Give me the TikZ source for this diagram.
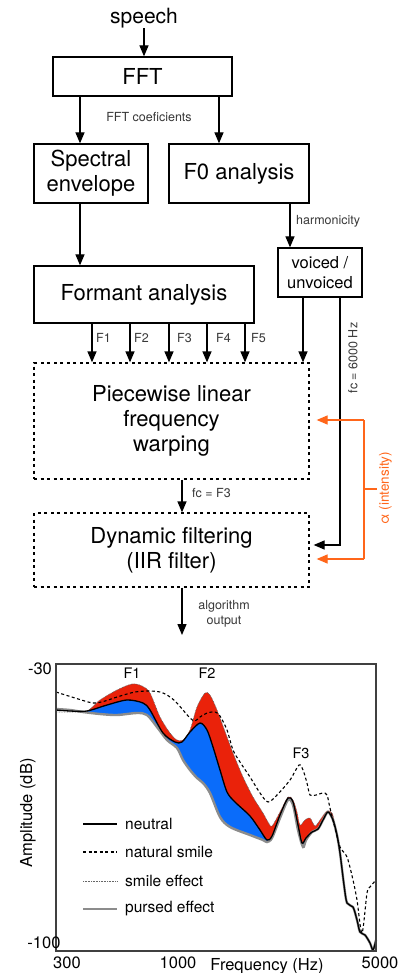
\documentclass[tikz,border=0pt]{standalone}
\usepackage{fontspec}
\setmainfont{TeX Gyre Heros}
\usetikzlibrary{arrows.meta}
\definecolor{myorange}{RGB}{255,102,26}
\definecolor{myred}{RGB}{234,34,10}
\definecolor{myblue}{RGB}{10,108,250}
\def\Npath{plot[smooth,tension=0.5] coordinates {(56,710) (70,711) (87,711) (107,705) (127,700) (143,703) (150,710) (163,733) (175,742) (182,742) (190,732) (200,723) (207,730) (213,747) (220,770) (227,792) (235,802) (250,816) (260,830) (267,840) (272,836) (280,815) (288,798) (293,802) (298,825) (302,843) (306,838) (312,832) (318,829) (323,820) (328,812) (333,820) (337,835) (340,853) (344,885) (347,903) (353,907) (357,920) (360,932) (365,935) (370,943) (373,950) (376,940)}}
\def\Spath{plot[smooth,tension=0.5] coordinates {(56,712) (70,712) (87,711) (100,700) (117,690) (132,684) (142,686) (150,693) (160,717) (170,733) (177,740) (183,740) (190,730) (197,707) (205,693) (210,695) (217,710) (227,737) (233,753) (243,777) (253,797) (263,813) (268,822) (272,826) (280,812) (288,797) (293,800) (297,812) (300,825) (305,820) (310,818) (315,826) (320,820) (327,811) (332,813) (335,825) (340,853) (344,885) (347,903) (353,907) (357,920) (360,932) (365,935) (370,943) (373,950) (376,940)}}
\def\Ppath{plot[smooth,tension=0.5] coordinates {(56,709) (70,710) (83,712) (100,714) (117,715) (137,713) (147,715) (157,727) (167,740) (177,748) (183,760) (190,770) (197,778) (203,783) (210,793) (220,817) (230,827) (250,835) (263,840) (267,842) (272,838) (280,818) (288,800) (293,805) (298,830) (303,847) (306,840) (312,832) (318,829) (323,820) (328,812) (333,820) (337,835) (340,853) (344,885) (347,903) (353,907) (357,920) (360,932) (365,935) (370,943) (373,950) (376,940)}}
\def\Dpath{plot[smooth,tension=0.5] coordinates {(56,692) (75,698) (93,703) (105,701) (117,697) (135,692) (150,691) (160,692) (167,695) (175,701) (183,710) (190,718) (195,721) (200,717) (207,713) (215,712) (220,716) (227,730) (233,750) (240,762) (250,777) (260,793) (268,802) (277,795) (290,780) (299,765) (303,770) (307,783) (310,795) (316,795) (323,793) (327,795) (330,808) (335,828) (340,847) (347,857) (353,880) (357,900) (362,933) (367,893) (370,887) (376,880)}}
\begin{document}
\begin{tikzpicture}[x=1pt,y=-1pt,
  box/.style={draw, line width=1.3pt, align=center, inner sep=0pt, font=\fontsize{22}{25}\selectfont},
  dbox/.style={draw, line width=1.3pt, dash pattern=on 3pt off 3.5pt, align=center, inner sep=0pt, font=\fontsize{22}{25}\selectfont},
  arr/.style={-{Triangle[length=11pt,width=9pt]}, line width=1.3pt},
  oarr/.style={-{Triangle[length=11pt,width=9pt]}, line width=1.3pt, myorange},
  oline/.style={line width=1.3pt, myorange},
  lbl/.style={inner sep=0pt, text=black!78, font=\fontsize{12.5}{15}\selectfont},
  ptxt/.style={inner sep=0pt, font=\fontsize{16.5}{19}\selectfont},
  ltxt/.style={inner sep=0pt, anchor=west, font=\fontsize{15.5}{18}\selectfont},
  ftxt/.style={inner sep=0pt, font=\fontsize{14.5}{17}\selectfont}]
\useasboundingbox (0,0) rectangle (405,973);
\fill[white] (0,0) rectangle (405,973);
% ---------------- flow diagram ----------------
\node[inner sep=0pt, font=\fontsize{21}{24}\selectfont] (speech) at (144,18) {speech};
\node[box, minimum width=179pt, minimum height=39pt] (fft) at (142.5,76.5) {FFT};
\node[box, minimum width=114pt, minimum height=59pt] (spec) at (91,173.5) {Spectral\\envelope};
\node[box, minimum width=140pt, minimum height=59pt] (f0) at (239,173.5) {F0 analysis};
\node[box, font=\fontsize{16.5}{19.5}\selectfont, minimum width=84pt, minimum height=49pt] (vu) at (320,272.5) {voiced /\\unvoiced};
\node[box, minimum width=220pt, minimum height=57pt] (form) at (144,294.5) {Formant analysis};
\node[dbox, minimum width=275pt, minimum height=116pt] (pw) at (171.5,421) {Piecewise linear\\frequency\\warping};
\node[dbox, minimum width=275pt, minimum height=74pt] (dyn) at (171.5,550) {Dynamic filtering\\(IIR filter)};

\coordinate (xa) at (80,0);
\coordinate (xb) at (219,0);
\coordinate (xc) at (290,0);
\coordinate (xd) at (303,0);
\coordinate (k1) at (340,545);
\coordinate (xf) at (182,0);
\coordinate (out) at (182,635);

\draw[arr] (speech.south) -- (fft.north -| speech.south);
\draw[arr] (fft.south -| xa) -- (spec.north -| xa);
\draw[arr] (fft.south -| xb) -- (f0.north -| xb);
\node[lbl] (fftc) at (149,117) {FFT coeficients};
\draw[arr] (spec.south -| xa) -- (form.north -| xa);
\draw[arr] (f0.south -| xc) -- (vu.north -| xc);
\node[lbl, anchor=west] (harm) at (296,221) {harmonicity};

\foreach \x/\t/\lx in {92/F1/96, 130/F2/134, 169/F3/177, 207/F4/216, 245/F5/251}{
  \coordinate (c\t) at (\x,0);
  \draw[arr] (form.south -| c\t) -- (pw.north -| c\t);
  \node[lbl, anchor=west] (l\t) at (\lx,338) {\t};
}
\draw[arr] (vu.south -| xd) -- (pw.north -| xd);
\draw[arr] (vu.south -| k1) -- (k1) -- ([xshift=4pt]dyn.east |- k1);
\node[lbl, rotate=90] (fc6) at (353,358) {fc = 6000 Hz};

\coordinate (o1) at (364,420);
\coordinate (o2) at (364,559);
\coordinate (o3) at (377,489);
\draw[oarr] (o1) -- ([xshift=7pt]pw.east |- o1);
\draw[oarr] (o2) -- ([xshift=7pt]dyn.east |- o2);
\draw[oline] (o1) -- (o2);
\draw[oline] (o3 -| o1) -- (o3);
\node[inner sep=0pt, text=myorange, rotate=90, font=\fontsize{13.5}{16}\selectfont] (alpha) at (385.5,488) {α (intensity)};

\draw[arr] (pw.south -| xf) -- (dyn.north -| xf);
\node[lbl, anchor=west] (fcf3) at (192,493) {fc = F3};
\draw[arr] (dyn.south -| out) -- (out);
\node[lbl, align=center] (algo) at (224,613.5) {algorithm\\output};

% ---------------- plot ----------------
\fill[myred] \Spath -- (376,951) -- (56,951) -- cycle;
\fill[myblue] \Npath -- (376,951) -- (56,951) -- cycle;
\fill[white] \Ppath -- (376,951) -- (56,951) -- cycle;
\draw[line width=2.4pt, black!45] \Ppath;
\draw[line width=0.6pt, black!60, dash pattern=on 0.8pt off 0.8pt] \Spath;
\draw[line width=1.3pt, black] \Npath;
\draw[line width=1.1pt, black, dash pattern=on 3pt off 2.5pt] \Dpath;
\draw[line width=1.2pt, black!75] (56,664) rectangle (376,951);

\node[ptxt] (ym30) at (40,669) {-30};
\node[ptxt] (ym100) at (44,943) {-100};
\node[ptxt] (x300) at (67,963) {300};
\node[ptxt] (x1000) at (178,963) {1000};
\node[ptxt] (x5000) at (380,963) {5000};
\node[ptxt] (xlab) at (267,966) {Frequency (Hz)};
\node[ptxt, rotate=90] (ylab) at (28,813) {Amplitude (dB)};
\node[ftxt] (pF1) at (132,673) {F1};
\node[ftxt] (pF2) at (207,673) {F2};
\node[ftxt] (pF3) at (301,753) {F3};

\coordinate (la1) at (83,824); \coordinate (lb1) at (117,824);
\coordinate (la2) at (83,852); \coordinate (lb2) at (117,852);
\coordinate (la3) at (83,881); \coordinate (lb3) at (117,881);
\coordinate (la4) at (83,909); \coordinate (lb4) at (117,909);
\draw[line width=1.3pt, black] (la1) -- (lb1);
\draw[line width=1.1pt, black, dash pattern=on 3pt off 2.5pt] (la2) -- (lb2);
\draw[line width=0.7pt, black!60, dash pattern=on 0.8pt off 0.8pt] (la3) -- (lb3);
\draw[line width=2.4pt, black!45] (la4) -- (lb4);
\node[ltxt] (lt1) at (125,824) {neutral};
\node[ltxt] (lt2) at (125,852) {natural smile};
\node[ltxt] (lt3) at (125,881) {smile effect};
\node[ltxt] (lt4) at (125,909) {pursed effect};
\end{tikzpicture}
\end{document}
